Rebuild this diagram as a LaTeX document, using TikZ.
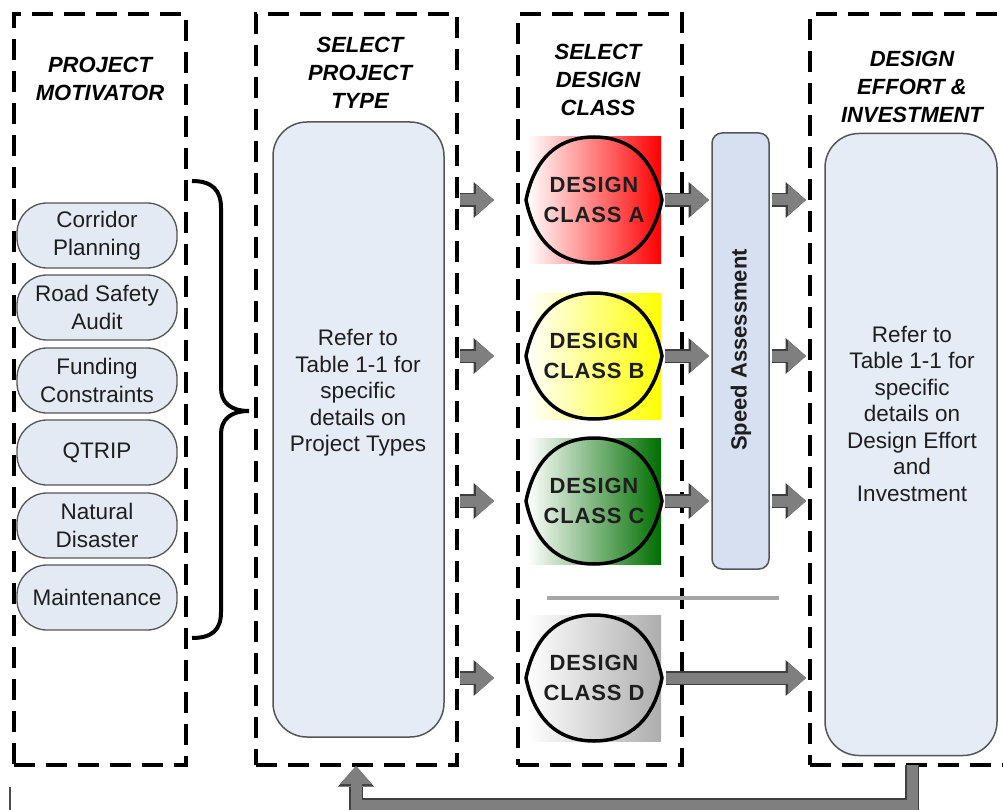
\documentclass[tikz,border=0pt]{standalone}
\usepackage{fontspec}
\setmainfont{Liberation Sans}
\usetikzlibrary{arrows.meta}
\definecolor{txt}{HTML}{1E1E1E}
\definecolor{edgegray}{HTML}{555555}
\definecolor{pillfill}{HTML}{E4EAF4}
\definecolor{boxfill}{HTML}{E6ECF6}
\definecolor{speedfill}{HTML}{D7E0F0}
\definecolor{arrgray}{HTML}{7F7F7F}
\definecolor{arredge}{HTML}{3F3F3F}
\definecolor{sepgray}{HTML}{A6A6A6}
\definecolor{dgreen}{HTML}{006E00}
\definecolor{dgray}{HTML}{ADADAD}
\newcommand\leafshape[1]{\draw[leafline, shift={(#1.center)}] (-68,0) .. controls (-62,-30) and (-45,-63) .. (0,-63) .. controls (45,-63) and (62,-30) .. (68,0) .. controls (62,30) and (45,63) .. (0,63) .. controls (-45,63) and (-62,30) .. cycle;}
\begin{document}
\begin{tikzpicture}[x=1pt,y=-1pt,
  dbox/.style={draw=black, line width=3.5pt, dash pattern=on 21pt off 11pt, inner sep=0pt, outer sep=0pt},
  ttl/.style={font=\fontsize{22}{28}\selectfont\bfseries\itshape, align=center, inner sep=0pt, text=black},
  pill/.style={draw=edgegray, line width=1.3pt, fill=pillfill, rounded corners=30pt, minimum width=160pt, minimum height=65pt, inner sep=0pt, align=center, font=\fontsize{22.5}{28}\selectfont, text=txt},
  bigbox/.style={draw=edgegray, line width=1.5pt, fill=boxfill, rounded corners=34pt, inner sep=0pt, outer sep=0pt},
  body/.style={align=center, font=\fontsize{22.5}{26.5}\selectfont, text=txt, inner sep=0pt},
  dclass/.style={minimum width=134pt, minimum height=126pt, inner sep=0pt, outer sep=0pt, align=center, font=\fontsize{22}{30}\selectfont\bfseries\addfontfeatures{LetterSpace=4}, text=txt, left color=white},
  leafline/.style={draw=black, line width=3.5pt},
  blk/.style={line width=11pt, draw=arrgray, -{Triangle[length=18pt,width=31pt,line width=0pt]},
    preaction={draw=arredge, line width=13.5pt, -{Triangle[length=20.5pt,width=36pt,line width=0pt]}}},
]
\clip (0,0) rectangle (1003,810);
\fill[white] (0,0) rectangle (1003,810);

% dashed columns
\node[dbox, minimum width=172pt, minimum height=751pt] (mot) at (100,389.5) {};
\node[dbox, minimum width=201pt, minimum height=751pt] (ptb) at (356.5,389.5) {};
\node[dbox, minimum width=164pt, minimum height=751pt] (dcb) at (600,389.5) {};
\node[dbox, minimum width=230pt, minimum height=751pt] (deb) at (925,389.5) {};

% titles
\node[ttl] (t1) at (100,79) {PROJECT\\MOTIVATOR};
\node[ttl] (t2) at (360,73) {SELECT\\PROJECT\\TYPE};
\node[ttl] (t3) at (598,80) {SELECT\\DESIGN\\CLASS};
\node[ttl] (t4) at (912,87) {DESIGN\\EFFORT \&\\INVESTMENT};

% motivators
\node[pill] (p1) at (97,235.5) {Corridor\\Planning};
\node[pill] (p2) at (97,307.5) {Road Safety\\Audit};
\node[pill] (p3) at (97,380.5) {Funding\\Constraints};
\node[pill] (p4) at (97,452.5) {QTRIP};
\node[pill] (p5) at (97,525.5) {Natural\\Disaster};
\node[pill] (p6) at (97,597.5) {Maintenance};

% brace
\draw[line width=4pt] (192,181) .. controls (212,181) and (221,190) .. (221,208) -- (221,388) .. controls (221,402) and (230,411) .. (249,411) .. controls (230,411) and (221,420) .. (221,434) -- (221,612) .. controls (221,630) and (212,638) .. (192,638);

% project type
\node[bigbox, minimum width=171pt, minimum height=615pt] (ptbox) at (358.5,429.5) {};
\node[body] (pttext) at (358,393) {Refer to\\Table 1-1 for\\specific\\details on\\Project Types};

% design classes
\node[dclass, right color=red] (dcA) at (594,200) {DESIGN\\CLASS A};
\node[dclass, right color=yellow] (dcB) at (594,356) {DESIGN\\CLASS B};
\node[dclass, right color=dgreen] (dcC) at (594,501) {DESIGN\\CLASS C};
\node[dclass, right color=dgray] (dcD) at (594,678) {DESIGN\\CLASS D};
\leafshape{dcA}
\leafshape{dcB}
\leafshape{dcC}
\leafshape{dcD}

% speed assessment
\node[draw=edgegray, line width=1.5pt, fill=speedfill, rounded corners=10pt, minimum width=57pt, minimum height=436pt, inner sep=0pt, outer sep=0pt] (sp) at (740.5,351) {};
\node[rotate=90, font=\fontsize{22}{26}\selectfont\bfseries, text=txt, inner sep=0pt] (sptext) at (741,350) {Speed Assessment};

% design effort
\node[bigbox, minimum width=172pt, minimum height=622pt] (debox) at (911,444.5) {};
\node[body] (detext) at (912,413.5) {Refer to\\Table 1-1 for\\specific\\details on\\Design Effort\\and\\Investment};

% separator
\draw[line width=4pt, sepgray] (547,598) -- (779,598);

% arrows
\foreach \n in {dcA,dcB,dcC,dcD}
  \draw[blk, shorten <=3pt, shorten >=24pt] (ptb.east |- \n) -- (dcb.west |- \n);
\foreach \n in {dcA,dcB,dcC}
  \draw[blk, shorten <=4pt, shorten >=3pt] (\n.east) -- (sp.west |- \n);
\foreach \n in {dcA,dcB,dcC}
  \draw[blk, shorten <=3pt, shorten >=19pt] (sp.east |- \n) -- (debox.west |- \n);
\draw[blk, shorten <=5pt, shorten >=19pt] (dcD.east) -- (debox.west |- dcD);

% feedback
\coordinate (fbR) at (912,765);
\coordinate (fbL) at (356,766);
\draw[blk] (fbR) -- ++(0,40) -| (fbL);

% stray mark
\draw[line width=1.5pt, black!70] (10,787) -- (10,810);
\end{tikzpicture}
\end{document}
